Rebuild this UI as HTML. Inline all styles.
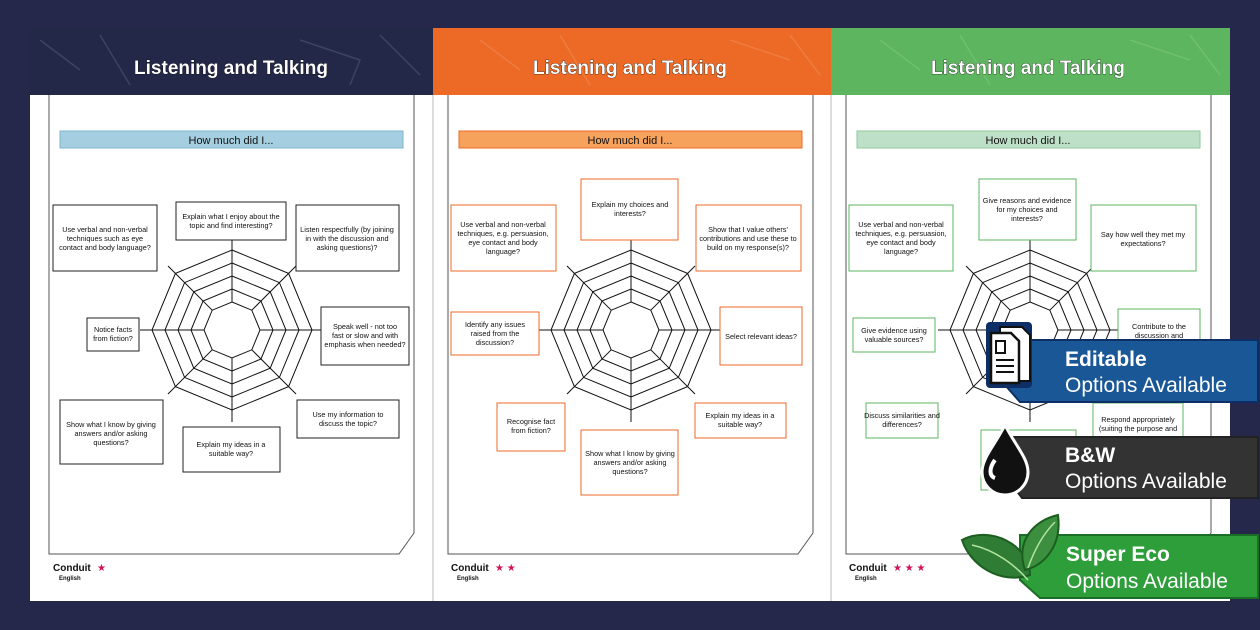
<!DOCTYPE html>
<html><head><meta charset="utf-8"><style>
html,body{margin:0;padding:0;background:#25284a;}
svg{display:block;font-family:"Liberation Sans",sans-serif;}
.bt{font-size:7.3px;fill:#111;text-anchor:middle;}
</style></head><body>
<svg width="1260" height="630" viewBox="0 0 1260 630" xmlns="http://www.w3.org/2000/svg">
<defs>
<g id="radar">
  <g fill="none" stroke="#111" stroke-width="1">
    <polygon points="0,-80 56.6,-56.6 80,0 56.6,56.6 0,80 -56.6,56.6 -80,0 -56.6,-56.6"/>
    <polygon points="0,-67 47.4,-47.4 67,0 47.4,47.4 0,67 -47.4,47.4 -67,0 -47.4,-47.4"/>
    <polygon points="0,-54 38.2,-38.2 54,0 38.2,38.2 0,54 -38.2,38.2 -54,0 -38.2,-38.2"/>
    <polygon points="0,-41 29,-29 41,0 29,29 0,41 -29,29 -41,0 -29,-29"/>
    <polygon points="0,-28 19.8,-19.8 28,0 19.8,19.8 0,28 -19.8,19.8 -28,0 -19.8,-19.8"/>
    <path d="M0,-28V-92 M0,28V92 M28,0H92 M-28,0H-92 M19.8,-19.8L64,-64 M-19.8,-19.8L-64,-64 M19.8,19.8L64,64 M-19.8,19.8L-64,64"/>
  </g>
</g>
</defs>
<rect width="1260" height="630" fill="#25284a"/>
<!-- pages -->
<rect x="30" y="28" width="1200" height="573" fill="#fff"/>
<rect x="30" y="28" width="403" height="67" fill="#232848"/>
<rect x="433" y="28" width="398" height="67" fill="#ec6a26"/>
<rect x="831" y="28" width="399" height="67" fill="#5db55f"/>
<g stroke="#fff" stroke-opacity="0.12" fill="none" stroke-width="1.5">
<path d="M40,40 l40,30 M100,35 l30,50 M300,40 l60,20 l-10,25 M380,35 l40,40 M480,40 l40,30 M560,35 l30,50 M730,40 l60,20 M790,35 l30,40 M880,40 l40,30 M960,35 l30,50 M1130,40 l60,20 M1190,35 l30,40"/>
</g>
<line x1="433" y1="95" x2="433" y2="601" stroke="#bbb"/>
<line x1="831" y1="95" x2="831" y2="601" stroke="#bbb"/>
<g font-weight="bold" font-size="19" fill="#fff" text-anchor="middle" stroke="#000" stroke-width="0.6" paint-order="stroke">
<text x="231" y="74">Listening and Talking</text>
<text x="630" y="74">Listening and Talking</text>
<text x="1028" y="74">Listening and Talking</text>
</g>
<!-- inner frames -->
<g fill="none" stroke="#555" stroke-width="1">
<path d="M49,95 V554 H399 L414,533 V95"/>
<path d="M448,95 V554 H798 L813,533 V95"/>
<path d="M846,95 V554 H1196 L1211,533 V95"/>
</g>
<!-- title bands -->
<rect x="60" y="131" width="343" height="17" fill="#a5cfe0" stroke="#7ab5d0"/>
<rect x="459" y="131" width="343" height="17" fill="#f6a15c" stroke="#ec6a26"/>
<rect x="857" y="131" width="343" height="17" fill="#bfe0c8" stroke="#8fc79e"/>
<g font-size="11" fill="#111" text-anchor="middle">
<text x="231" y="144">How much did I...</text>
<text x="630" y="144">How much did I...</text>
<text x="1028" y="144">How much did I...</text>
</g>
<use href="#radar" x="232" y="330"/>
<use href="#radar" x="631" y="330"/>
<use href="#radar" x="1030" y="330"/>
<!-- page 1 boxes -->
<g fill="#fff" stroke="#222" stroke-width="1">
<rect x="176" y="202" width="110" height="38"/>
<rect x="53" y="205" width="104" height="66"/>
<rect x="296" y="205" width="103" height="66"/>
<rect x="87" y="318" width="52" height="33"/>
<rect x="321" y="307" width="88" height="58"/>
<rect x="60" y="400" width="103" height="64"/>
<rect x="183" y="427" width="97" height="45"/>
<rect x="297" y="400" width="102" height="38"/>
</g>
<g class="bt">
<text x="231" y="219">Explain what I enjoy about the</text><text x="231" y="228">topic and find interesting?</text>
<text x="105" y="232">Use verbal and non-verbal</text><text x="105" y="241">techniques such as eye</text><text x="105" y="250">contact and body language?</text>
<text x="347" y="232">Listen respectfully (by joining</text><text x="347" y="241">in with the discussion and</text><text x="347" y="250">asking questions)?</text>
<text x="113" y="332">Notice facts</text><text x="113" y="341">from fiction?</text>
<text x="365" y="329">Speak well - not too</text><text x="365" y="338">fast or slow and with</text><text x="365" y="347">emphasis when needed?</text>
<text x="111" y="427">Show what I know by giving</text><text x="111" y="436">answers and/or asking</text><text x="111" y="445">questions?</text>
<text x="231" y="447">Explain my ideas in a</text><text x="231" y="456">suitable way?</text>
<text x="348" y="417">Use my information to</text><text x="348" y="426">discuss the topic?</text>
</g>
<!-- page 2 boxes -->
<g fill="#fff" stroke="#ec6a26" stroke-width="1">
<rect x="581" y="179" width="97" height="61"/>
<rect x="451" y="205" width="105" height="66"/>
<rect x="696" y="205" width="105" height="66"/>
<rect x="451" y="312" width="88" height="43"/>
<rect x="720" y="307" width="82" height="58"/>
<rect x="497" y="403" width="68" height="48"/>
<rect x="695" y="403" width="91" height="35"/>
<rect x="581" y="430" width="97" height="65"/>
</g>
<g class="bt">
<text x="630" y="207">Explain my choices and</text><text x="630" y="216">interests?</text>
<text x="503" y="227">Use verbal and non-verbal</text><text x="503" y="236">techniques, e.g. persuasion,</text><text x="503" y="245">eye contact and body</text><text x="503" y="254">language?</text>
<text x="748" y="232">Show that I value others'</text><text x="748" y="241">contributions and use these to</text><text x="748" y="250">build on my response(s)?</text>
<text x="495" y="327">Identify any issues</text><text x="495" y="336">raised from the</text><text x="495" y="345">discussion?</text>
<text x="761" y="339">Select relevant ideas?</text>
<text x="531" y="424">Recognise fact</text><text x="531" y="433">from fiction?</text>
<text x="740" y="418">Explain my ideas in a</text><text x="740" y="427">suitable way?</text>
<text x="630" y="456">Show what I know by giving</text><text x="630" y="465">answers and/or asking</text><text x="630" y="474">questions?</text>
</g>
<!-- page 3 boxes -->
<g fill="#fff" stroke="#5db55f" stroke-width="1">
<rect x="979" y="179" width="97" height="61"/>
<rect x="849" y="205" width="104" height="66"/>
<rect x="1091" y="205" width="105" height="66"/>
<rect x="853" y="318" width="82" height="34"/>
<rect x="1118" y="309" width="82" height="56"/>
<rect x="866" y="403" width="72" height="35"/>
<rect x="1093" y="403" width="90" height="47"/>
<rect x="981" y="430" width="95" height="60"/>
</g>
<g class="bt">
<text x="1027" y="203">Give reasons and evidence</text><text x="1027" y="212">for my choices and</text><text x="1027" y="221">interests?</text>
<text x="901" y="227">Use verbal and non-verbal</text><text x="901" y="236">techniques, e.g. persuasion,</text><text x="901" y="245">eye contact and body</text><text x="901" y="254">language?</text>
<text x="1143" y="237">Say how well they met my</text><text x="1143" y="246">expectations?</text>
<text x="894" y="333">Give evidence using</text><text x="894" y="342">valuable sources?</text>
<text x="1159" y="329">Contribute to the</text><text x="1159" y="338">discussion and</text>
<text x="902" y="418">Discuss similarities and</text><text x="902" y="427">differences?</text>
<text x="1138" y="422">Respond appropriately</text><text x="1138" y="431">(suiting the purpose and</text>
</g>
<!-- footers -->
<g font-family="Liberation Sans,sans-serif">
<text x="53" y="571" font-size="10" font-weight="bold" fill="#111">Conduit</text>
<text x="59" y="580" font-size="6" font-weight="bold" fill="#111">English</text>
<text x="97" y="571" font-size="10" fill="#d4145a">★</text>
<text x="451" y="571" font-size="10" font-weight="bold" fill="#111">Conduit</text>
<text x="457" y="580" font-size="6" font-weight="bold" fill="#111">English</text>
<text x="495" y="571" font-size="10" fill="#d4145a">★ ★</text>
<text x="849" y="571" font-size="10" font-weight="bold" fill="#111">Conduit</text>
<text x="855" y="580" font-size="6" font-weight="bold" fill="#111">English</text>
<text x="893" y="571" font-size="10" fill="#d4145a">★ ★ ★</text>
</g>
<!-- badges -->
<polygon points="1005,340 1258,340 1258,402 1020,402 1005,385" fill="#1a5796" stroke="#0d2f66" stroke-width="2"/>
<rect x="986" y="322" width="46" height="66" rx="4" fill="#0d2f66"/>
<path d="M1000,327 h22 l8,8 v46 h-30z" fill="#fff" stroke="#111" stroke-width="2"/>
<path d="M991,333 h20 l8,8 v42 h-28z" fill="#fff" stroke="#111" stroke-width="2.5"/>
<rect x="996" y="341" width="9" height="12" fill="none" stroke="#111" stroke-width="2"/>
<path d="M996,360h18M996,366h18M996,372h18" stroke="#111" stroke-width="2"/>
<text x="1065" y="366" font-size="21" font-weight="bold" fill="#fff">Editable</text>
<text x="1065" y="392" font-size="21" fill="#fff">Options Available</text>
<polygon points="1012,437 1258,437 1258,498 1022,498 1012,485" fill="#333" stroke="#222" stroke-width="2"/>
<path d="M1005,425 C995,445 982,458 982,472 a23,23 0 0 0 46,0 C1028,458 1015,445 1005,425z" fill="#111" stroke="#fff" stroke-width="3"/>
<path d="M995,460 c-6,8 -6,16 0,18" stroke="#fff" stroke-width="4" fill="none"/>
<text x="1065" y="462" font-size="21" font-weight="bold" fill="#fff">B&amp;W</text>
<text x="1065" y="488" font-size="21" fill="#fff">Options Available</text>
<polygon points="1020,535 1258,535 1258,598 1040,598 1020,580" fill="#2e9e3a" stroke="#1b6e25" stroke-width="2"/>
<path d="M962,540 C990,525 1030,545 1030,575 C1000,585 970,565 962,540z" fill="#2f7d34" stroke="#1b5e20" stroke-width="2"/>
<path d="M1025,570 C1015,540 1035,520 1058,515 C1062,545 1045,565 1025,570z" fill="#3b8f3e" stroke="#1b5e20" stroke-width="2"/>
<path d="M972,545 C995,550 1015,565 1028,580 M1028,568 C1035,548 1045,532 1055,522" stroke="#b5e3a0" stroke-width="1.5" fill="none"/>
<text x="1066" y="561" font-size="21" font-weight="bold" fill="#fff">Super Eco</text>
<text x="1066" y="588" font-size="21" fill="#fff">Options Available</text>
</svg>
</body></html>
